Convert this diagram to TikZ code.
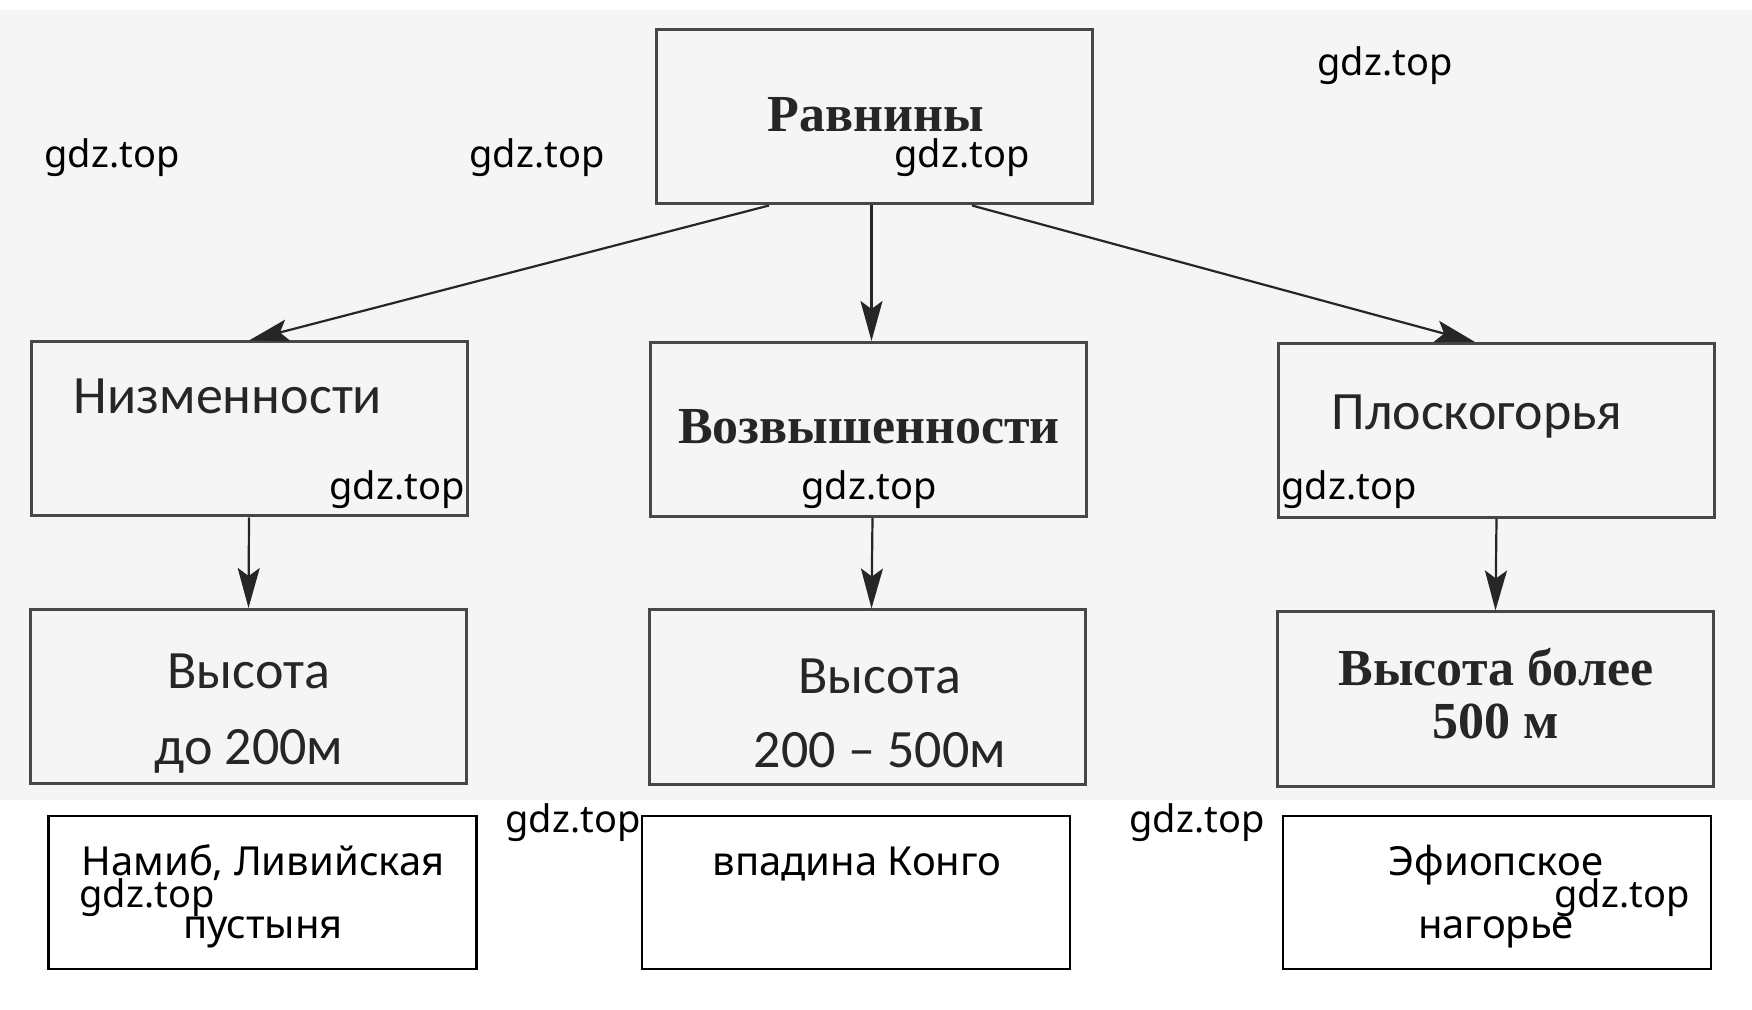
\documentclass[tikz,border=0pt]{standalone}
\usepackage{fontspec}
\usepackage{tikz}
\usetikzlibrary{arrows.meta}
\newfontfamily\seriffont{Liberation Serif}
\newfontfamily\scanfont{Carlito}
\newfontfamily\notefont{Noto Sans}
\definecolor{scanbg}{HTML}{F5F5F5}
\definecolor{boxgray}{HTML}{474747}
\definecolor{textgray}{HTML}{262626}
\newcommand{\pixelsize}{0.5pt}
\tikzset{
	scanbox/.style={draw=boxgray, line width=1.5pt, minimum width=218pt, minimum height=87pt, inner sep=0pt},
	answerbox/.style={draw=black, line width=1.2pt, minimum width=214pt, minimum height=76.5pt, inner sep=0pt},
	boldlabel/.style={font=\seriffont\bfseries\fontsize{26}{26}\selectfont, text=textgray, anchor=base},
	sanslabel/.style={font=\scanfont\fontsize{27}{27}\selectfont, text=textgray, anchor=base},
	answerlabel/.style={font=\notefont\fontsize{20}{20}\selectfont, anchor=base},
	watermark/.style={font=\notefont\fontsize{19}{19}\selectfont, anchor=base},
	branch/.style={-{Stealth[length=20pt,width=11pt,inset=4pt]}, line width=1.1pt, draw=textgray}
}

\begin{document}
\begin{tikzpicture}[x=\pixelsize,y=-\pixelsize]
	\useasboundingbox (0,0) rectangle (1752,1010);
	\fill[white] (0,0) rectangle (1752,1010);
	\fill[scanbg] (0,10) rectangle (1752,800);

	% scanned scheme
	\node[scanbox] (plains) at (874.5,117) {};
	\node[scanbox] (low) at (249,429) {};
	\node[scanbox] (hill) at (868.5,429.5) {};
	\node[scanbox] (plat) at (1496.5,430.5) {};
	\node[scanbox] (lowh) at (248.5,696.5) {};
	\node[scanbox] (hillh) at (867.5,697) {};
	\node[scanbox] (plath) at (1495.5,699) {};

	\node[boldlabel] at (876,132) {Равнины};
	\node[sanslabel] at (228,414) {Низменности};
	\node[boldlabel] at (869,444) {Возвышенности};
	\node[sanslabel] at (1477,430) {Плоскогорья};
	\node[sanslabel] at (249,689) {Высота};
	\node[sanslabel] at (249,764) {до 200м};
	\node[sanslabel] at (880,693) {Высота};
	\node[sanslabel] at (880,767) {200 – 500м};
	\node[boldlabel] at (1496,685) {Высота более};
	\node[boldlabel] at (1496,738) {500 м};

	\draw[branch] ([xshift=-52.75pt]plains.south) -- (low.north);
	\draw[branch] ([xshift=1.5pt]hill.north |- plains.south) -- ([xshift=1.5pt]hill.north);
	\draw[branch] ([xshift=48.75pt]plains.south) -- ([xshift=-10.75pt]plat.north);
	\draw[branch] (low.south) -- (lowh.north);
	\draw[branch] ([xshift=2pt]hill.south) -- ([xshift=2pt]hillh.north);
	\draw[branch] (plat.south) -- (plath.north);

	% answers
	\node[answerbox] (namib) at (262.5,892.5) {};
	\node[answerbox] (congo) at (856,892.5) {};
	\node[answerbox] (ethiopia) at (1497,892.5) {};
	\node[answerlabel] at (263,875) {Намиб, Ливийская};
	\node[answerlabel] at (263,938) {пустыня};
	\node[answerlabel] at (857,875) {впадина Конго};
	\node[answerlabel] at (1496,875) {Эфиопское};
	\node[answerlabel] at (1496,938) {нагорье};

	% watermarks
	\foreach \wx/\wy in {1385/76, 112/168, 537/168, 962/168, 397/500, 869/500, 1349/500, 573/832, 1197/832, 147/907, 1622/907}
		\node[watermark] at (\wx,\wy) {gdz.top};
\end{tikzpicture}
\end{document}
